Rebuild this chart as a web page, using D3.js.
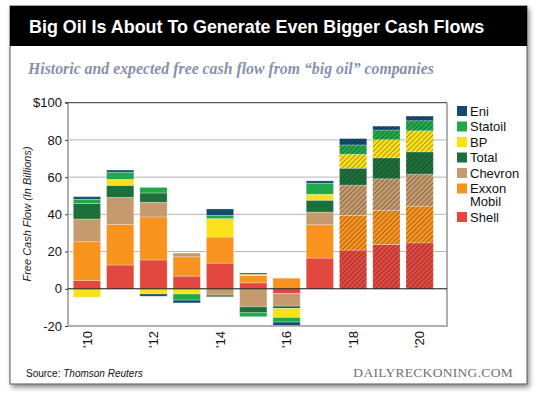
<!DOCTYPE html>
<html>
<head>
<meta charset="utf-8">
<script src="https://cdn.jsdelivr.net/npm/d3@7"></script>
<style>
  body { margin: 0; background: #fff; }
  svg { display: block; font-family: "Liberation Sans", Arial, sans-serif; }
</style>
</head>
<body>
<svg width="540" height="397"></svg>
<script>
// data, billions of dollars
var years = ["2010", "2011", "2012", "2013", "2014", "2015", "2016", "2017", "2018", "2019", "2020"];
var forecastYears = ["2018", "2019", "2020"];
var tickYears = ["2010", "2012", "2014", "2016", "2018", "2020"];
var yTicks = [-20, 0, 20, 40, 60, 80, 100];

var shell   = [4.4, 12.8, 15.5, 6.8, 13.8, 3.2, -2.5, 16.5, 20.8, 23.8, 24.7];
var exxon   = [20.9, 21.7, 23.1, 10.4, 14.0, 3.9, 5.7, 17.9, 18.6, 18.3, 19.7];
var chevron = [12.2, 14.6, 7.9, 2.0, -3.4, -9.7, -6.8, 6.8, 16.3, 17.0, 17.2];
var total   = [8.4, 6.5, 5.0, 0, -0.9, -3.2, -1.3, 6.4, 9.1, 11.3, 12.0];
var bp      = [-4.5, 3.2, -2.8, -2.8, 9.9, 0.7, -4.8, 3.2, 7.5, 9.7, 11.3];
var statoil = [2.2, 3.8, 3.0, -3.3, 1.8, -2.1, -2.5, 5.9, 5.0, 5.2, 5.4];
var eni     = [1.4, 1.2, -1.2, -1.5, 3.4, 0.7, -1.8, 1.3, 3.4, 2.1, 2.5];

// stacking order, bottom first
var keys = ["Shell", "Exxon Mobil", "Chevron", "Total", "BP", "Statoil", "Eni"];
var seriesValues = [shell, exxon, chevron, total, bp, statoil, eni];
var colors = ["#e2483f", "#f7931e", "#c59a6d", "#1d7039", "#fce01a", "#21a84a", "#134b6e"];

var table = years.map(function(y, i) {
  var row = { year: y };
  keys.forEach(function(k, j) { row[k] = seriesValues[j][i]; });
  return row;
});

var svg = d3.select("svg");
var defs = svg.append("defs");

var shadow = defs.append("filter").attr("id", "shadow")
  .attr("x", "-5%").attr("y", "-5%").attr("width", "110%").attr("height", "115%");
shadow.append("feDropShadow").attr("dx", 2).attr("dy", 3).attr("stdDeviation", 2.5)
  .attr("flood-color", "#000").attr("flood-opacity", 0.45);

var hatch = defs.append("pattern").attr("id", "hatch")
  .attr("patternUnits", "userSpaceOnUse").attr("width", 3.4).attr("height", 3.4)
  .attr("patternTransform", "rotate(45)");
hatch.append("line").attr("x1", 0).attr("y1", 0).attr("x2", 0).attr("y2", 3.4)
  .attr("stroke", "#1a1a1a").attr("stroke-width", 0.7);

// card
svg.append("rect").attr("x", 10).attr("y", 6).attr("width", 517).attr("height", 378)
  .attr("fill", "#fff").attr("stroke", "#555").attr("stroke-width", 1)
  .attr("filter", "url(#shadow)");
svg.append("rect").attr("x", 10).attr("y", 6).attr("width", 517).attr("height", 40)
  .attr("fill", "#000");
svg.append("text").attr("x", 29).attr("y", 33)
  .attr("fill", "#fff").attr("font-weight", "bold").attr("font-size", 17.9)
  .text("Big Oil Is About To Generate Even Bigger Cash Flows");
svg.append("text").attr("x", 28).attr("y", 74)
  .attr("fill", "#8791aa").attr("font-family", "'Liberation Serif', serif")
  .attr("font-style", "italic").attr("font-weight", "bold").attr("font-size", 15.8)
  .text("Historic and expected free cash flow from \u201cbig oil\u201d companies");

var plotLeft = 68, plotRight = 447, plotTop = 102.7, plotBottom = 326;

var x = d3.scaleBand().domain(years).range([70.3, 436.3]).paddingInner(0.18).paddingOuter(0.09);
var y = d3.scaleLinear().domain([-20, 100]).range([plotBottom, plotTop]);

// grid
svg.append("g").selectAll("line").data([20, 40, 60, 80]).enter().append("line")
  .attr("x1", plotLeft).attr("x2", plotRight)
  .attr("y1", function(d) { return y(d); }).attr("y2", function(d) { return y(d); })
  .attr("stroke", "#b5b5b5").attr("stroke-width", 1);

// frame
svg.append("path")
  .attr("d", "M" + plotLeft + "," + plotTop + "V" + plotBottom + "H" + plotRight + "V" + plotTop)
  .attr("fill", "none").attr("stroke", "#b0b0b0").attr("stroke-width", 2);
svg.append("line").attr("x1", plotLeft - 3).attr("x2", plotRight).attr("y1", y(100)).attr("y2", y(100))
  .attr("stroke", "#333").attr("stroke-width", 1);

// y axis
var yAxis = svg.append("g").attr("transform", "translate(" + plotLeft + ",0)")
  .call(d3.axisLeft(y).tickValues(yTicks).tickSize(3).tickPadding(3)
    .tickFormat(function(d) { return d === 100 ? "$100" : d; }));
yAxis.select(".domain").remove();
yAxis.selectAll("line").attr("stroke", "#444");
yAxis.selectAll("text").attr("font-size", 13).attr("fill", "#111")
  .attr("font-family", "'Liberation Sans', Arial, sans-serif");

svg.append("text").attr("transform", "translate(31,214) rotate(-90)")
  .attr("text-anchor", "middle").attr("font-size", 11).attr("font-style", "italic")
  .attr("fill", "#222").text("Free Cash Flow (In Billions)");

// bars
var stack = d3.stack().keys(keys).offset(d3.stackOffsetDiverging);
var layers = stack(table);

var layer = svg.append("g").selectAll("g").data(layers).enter().append("g")
  .attr("fill", function(d, i) { return colors[i]; });

layer.selectAll("rect.seg").data(function(d) { return d; }).enter().append("rect")
  .attr("class", "seg")
  .attr("x", function(d) { return x(d.data.year); })
  .attr("width", x.bandwidth())
  .attr("y", function(d) { return y(Math.max(d[0], d[1])); })
  .attr("height", function(d) { return Math.abs(y(d[0]) - y(d[1])); })
  .attr("stroke", "#fff").attr("stroke-opacity", 0.35).attr("stroke-width", 0.8);

layer.selectAll("rect.hatch").data(function(d) {
    return d.filter(function(p) { return forecastYears.indexOf(p.data.year) >= 0; });
  }).enter().append("rect").attr("class", "hatch")
  .attr("x", function(d) { return x(d.data.year); })
  .attr("width", x.bandwidth())
  .attr("y", function(d) { return y(Math.max(d[0], d[1])); })
  .attr("height", function(d) { return Math.abs(y(d[0]) - y(d[1])); })
  .attr("fill", "url(#hatch)");

// zero line
svg.append("line").attr("x1", plotLeft).attr("x2", plotRight).attr("y1", y(0)).attr("y2", y(0))
  .attr("stroke", "#111").attr("stroke-width", 1);

// x axis
var xAxis = svg.append("g").attr("transform", "translate(0," + plotBottom + ")")
  .call(d3.axisBottom(x).tickValues(tickYears).tickSize(0)
    .tickFormat(function(d) { return "'" + d.slice(2); }));
xAxis.select(".domain").remove();
xAxis.selectAll("text")
  .attr("font-size", 13).attr("fill", "#111")
  .attr("font-family", "'Liberation Sans', Arial, sans-serif")
  .attr("transform", "rotate(-90)")
  .attr("text-anchor", "end")
  .attr("x", -5).attr("y", 0).attr("dy", "0.36em");

// legend, top entry first
var legendRows = [
  { name: ["Eni"], c: 6, y: 111 },
  { name: ["Statoil"], c: 5, y: 126.5 },
  { name: ["BP"], c: 4, y: 142 },
  { name: ["Total"], c: 3, y: 157.5 },
  { name: ["Chevron"], c: 2, y: 173 },
  { name: ["Exxon", "Mobil"], c: 1, y: 188.5 },
  { name: ["Shell"], c: 0, y: 217 }
];
var lg = svg.append("g").selectAll("g").data(legendRows).enter().append("g")
  .attr("transform", function(d) { return "translate(457," + d.y + ")"; });
lg.append("rect").attr("x", 0).attr("y", -5).attr("width", 10).attr("height", 10)
  .attr("fill", function(d) { return colors[d.c]; });
lg.append("text").attr("x", 13).attr("y", 0)
  .attr("font-size", 13).attr("fill", "#111")
  .selectAll("tspan").data(function(d) { return d.name; }).enter().append("tspan")
  .attr("x", 13).attr("dy", function(d, i) { return i === 0 ? "0.36em" : "1.0em"; })
  .text(function(d) { return d; });

// footer
var src = svg.append("text").attr("x", 26).attr("y", 377).attr("font-size", 10).attr("fill", "#111");
src.append("tspan").text("Source: ");
src.append("tspan").attr("font-style", "italic").text("Thomson Reuters");
svg.append("text").attr("x", 513).attr("y", 377).attr("text-anchor", "end")
  .attr("font-family", "'Liberation Serif', serif").attr("font-size", 13.5)
  .attr("fill", "#6f6f6f").attr("letter-spacing", 0.3)
  .text("DAILYRECKONING.COM");
</script>
</body>
</html>
